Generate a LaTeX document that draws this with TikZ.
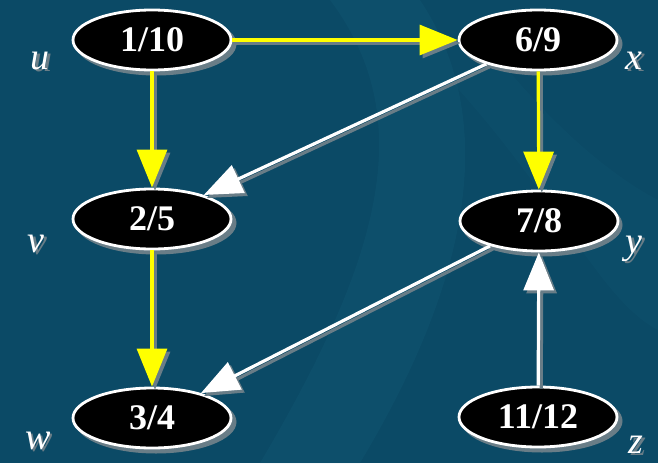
\documentclass[tikz,border=0pt]{standalone}
\usepackage{fontspec}
\setmainfont{Liberation Serif}
\usetikzlibrary{shapes.geometric,arrows.meta}
\definecolor{bgteal}{RGB}{11,74,102}
\definecolor{bglight}{RGB}{20,92,120}
\definecolor{shadowgray}{RGB}{105,125,135}
\definecolor{treeyellow}{RGB}{255,255,0}
\newcommand{\shadowtext}[1]{\makebox[0pt][l]{\hspace*{2.5pt}\raisebox{-2.5pt}{\textcolor{shadowgray}{#1}}}#1}
\tikzset{
  vtx/.style={ellipse, fill=black, draw=white, line width=2.8pt,
    minimum width=158pt, minimum height=60pt, inner sep=0pt,
    text=white, font=\fontsize{36}{36}\selectfont\bfseries},
  vtxshadow/.style={ellipse, fill=shadowgray, minimum width=161pt,
    minimum height=63pt, inner sep=0pt},
  lbl/.style={text=white, font=\fontsize{38}{38}\selectfont\itshape, inner sep=0pt},
  treeedge/.style={draw=treeyellow, line width=3.2pt,
    -{Triangle[length=38pt,width=30pt]}},
  backedge/.style={draw=white, line width=3.2pt,
    -{Triangle[length=38pt,width=30pt]}},
  edgeshadow/.style={draw=shadowgray, line width=3.2pt,
    -{Triangle[length=38pt,width=30pt]},
    transform canvas={shift={(3pt,-3pt)}}},
}
\begin{document}
\begin{tikzpicture}[x=1pt,y=-1pt]
  \fill[bgteal] (0,0) rectangle (658,463);
  \useasboundingbox (0,0) rectangle (658,463);
  % faint background swirls
  \fill[bglight, opacity=0.28] (330,0) .. controls (420,120) and (380,260) .. (260,463) -- (360,463) .. controls (470,280) and (500,120) .. (420,0) -- cycle;
  \fill[bglight, opacity=0.2] (450,80) .. controls (560,200) and (600,300) .. (658,330) -- (658,200) .. controls (600,170) and (540,110) .. (500,60) -- cycle;

  % node shadows
  \node[vtxshadow] at (156,44) {};
  \node[vtxshadow] at (542,44) {};
  \node[vtxshadow] at (156,223) {};
  \node[vtxshadow] at (542,225) {};
  \node[vtxshadow] at (156,422) {};
  \node[vtxshadow] at (542,421) {};

  % nodes
  \node[vtx] (u) at (152,40) {1/10};
  \node[vtx] (x) at (538,40) {6/9};
  \node[vtx] (v) at (152,219) {2/5};
  \node[vtx] (y) at (539,221) {7/8};
  \node[vtx] (w) at (152,418) {3/4};
  \node[vtx] (z) at (538,417) {11/12};

  % edge shadows
  \draw[edgeshadow] (u) -- (x);
  \draw[edgeshadow] (u) -- (v);
  \draw[edgeshadow] (x) -- (y);
  \draw[edgeshadow] (v) -- (w);
  \draw[edgeshadow] (x) -- (v);
  \draw[edgeshadow] (y) -- (w);
  \draw[edgeshadow] (z) -- (y);

  % edges
  \draw[treeedge] (u) -- (x);
  \draw[treeedge] (u) -- (v);
  \draw[treeedge] (x) -- (y);
  \draw[treeedge] (v) -- (w);
  \draw[backedge] (x) -- (v);
  \draw[backedge] (y) -- (w);
  \draw[backedge] (z) -- (y);

  % vertex labels
  \node[lbl] (lu) at (40,62) {\shadowtext{u}};
  \node[lbl] (lx) at (634,62) {\shadowtext{x}};
  \node[lbl] (lv) at (36,245) {\shadowtext{v}};
  \node[lbl] (ly) at (634,250) {\shadowtext{y}};
  \node[lbl] (lw) at (38,442) {\shadowtext{w}};
  \node[lbl] (lz) at (636,446) {\shadowtext{z}};
\end{tikzpicture}
\end{document}
